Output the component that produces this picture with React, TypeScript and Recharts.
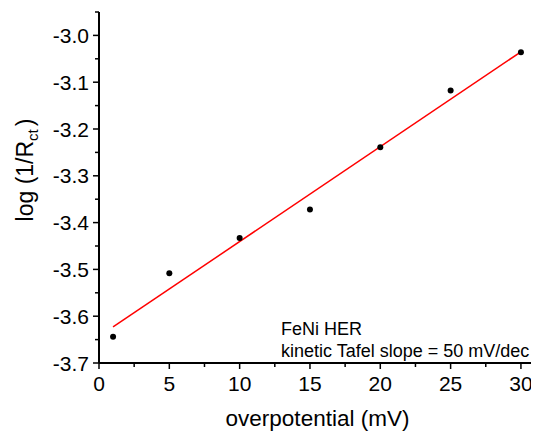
import { ScatterChart, Scatter, XAxis, YAxis, Customized } from "recharts";

const overpotential = [1, 5, 10, 15, 20, 25, 30];
const logInvRct = [-3.644, -3.508, -3.433, -3.372, -3.239, -3.118, -3.036];

const fitX = [1, 30];
const fitY = [-3.623, -3.035];

const xMajorTicks = [0, 5, 10, 15, 20, 25, 30];
const xMinorTicks = [2.5, 7.5, 12.5, 17.5, 22.5, 27.5];
const yMajorTicks = [-3.7, -3.6, -3.5, -3.4, -3.3, -3.2, -3.1, -3.0];
const yMinorTicks = [-3.65, -3.55, -3.45, -3.35, -3.25, -3.15, -3.05, -2.95];

const points = overpotential.map((x, i) => ({ x, y: logInvRct[i] }));
const fitLine = fitX.map((x, i) => ({ x, y: fitY[i] }));

const FONT = "'Liberation Sans', Arial, sans-serif";

const isMajor = (list: number[], v: number) =>
  list.some((m) => Math.abs(m - v) < 1e-6);

function XTick(props: any) {
  const { x, y, payload } = props;
  const major = isMajor(xMajorTicks, payload.value);
  return (
    <g>
      <line x1={x} x2={x} y1={y} y2={y + (major ? 6 : 4)} stroke="#000" strokeWidth={1.5} />
      {major && (
        <text x={x} y={y + 28} textAnchor="middle" fontSize={21} fontFamily={FONT} fill="#000">
          {payload.value}
        </text>
      )}
    </g>
  );
}

function YTick(props: any) {
  const { x, y, payload } = props;
  const major = isMajor(yMajorTicks, payload.value);
  return (
    <g>
      <line x1={x} x2={x - (major ? 6 : 4)} y1={y} y2={y} stroke="#000" strokeWidth={1.5} />
      {major && (
        <text x={x - 10} y={y + 7.5} textAnchor="end" fontSize={21} fontFamily={FONT} fill="#000">
          {payload.value.toFixed(1)}
        </text>
      )}
    </g>
  );
}

export default function App() {
  return (
    <div style={{ width: 531, height: 427, background: "#fff" }}>
      <ScatterChart
        width={531}
        height={427}
        margin={{ top: 4, right: 4, left: 0, bottom: 0 }}
      >
        <XAxis
          type="number"
          dataKey="x"
          domain={[0, 31]}
          ticks={[...xMajorTicks, ...xMinorTicks].sort((a, b) => a - b)}
          interval={0}
          tickSize={0}
          tickMargin={0}
          tickLine={false}
          tick={<XTick />}
          axisLine={{ stroke: "#000", strokeWidth: 2 }}
          height={72}
        />
        <YAxis
          type="number"
          dataKey="y"
          domain={[-3.7, -2.95]}
          ticks={[...yMajorTicks, ...yMinorTicks].sort((a, b) => a - b)}
          interval={0}
          tickSize={0}
          tickMargin={0}
          tickLine={false}
          tick={<YTick />}
          axisLine={{ stroke: "#000", strokeWidth: 2 }}
          width={91}
        />
        <Scatter
          data={fitLine}
          line={{ stroke: "#ff0000", strokeWidth: 1.5 }}
          shape={() => <g />}
          isAnimationActive={false}
        />
        <Scatter
          data={points}
          fill="#000"
          shape={(p: any) => <circle cx={p.cx} cy={p.cy} r={3} fill="#000" />}
          isAnimationActive={false}
        />
        <Customized
          component={() => (
            <g fontFamily={FONT} fill="#000">
              <text x={273} y={327} fontSize={18}>FeNi HER</text>
              <text x={273} y={349} fontSize={18}>kinetic Tafel slope = 50 mV/dec</text>
              <text x={309.5} y={418} fontSize={22.5} textAnchor="middle">overpotential (mV)</text>
              <text
                transform="translate(25, 162) rotate(-90)"
                fontSize={23}
                textAnchor="middle"
              >
                log (1/R<tspan fontSize={15} dy={5}>ct</tspan>
                <tspan dx={3} dy={-5}>)</tspan>
              </text>
            </g>
          )}
        />
      </ScatterChart>
    </div>
  );
}
